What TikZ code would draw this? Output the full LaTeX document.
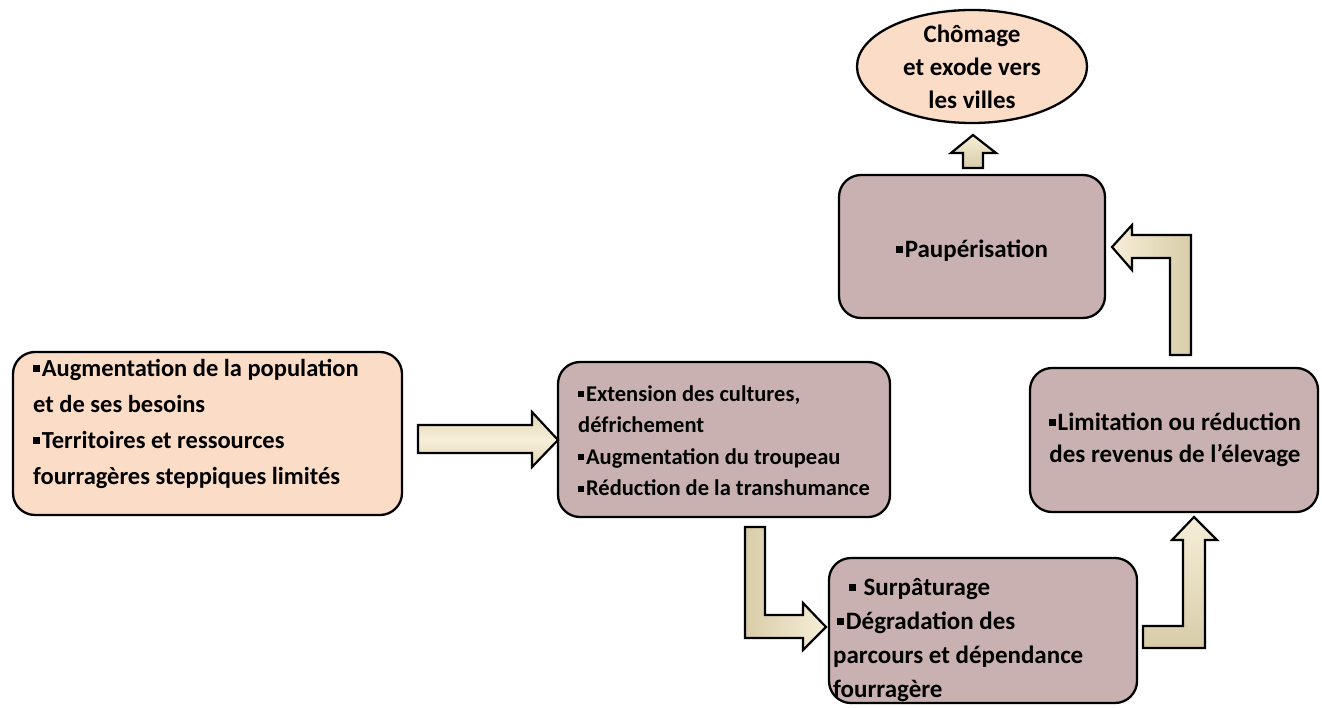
\documentclass[tikz,border=0pt]{standalone}
\usepackage{fontspec}
\setmainfont{Carlito}
\usetikzlibrary{shapes.geometric}
\definecolor{peach}{HTML}{FBDCC6}
\definecolor{mauve}{HTML}{C9B1B1}
\definecolor{arrL}{HTML}{F6EED8}
\definecolor{arrD}{HTML}{D8CCA8}
\newcommand\sqbul{\rule[0.17em]{0.27em}{0.27em}\hspace{0.08em}}
\newcommand\fstrut{\rule{0pt}{22bp}}
\begin{document}
\begin{tikzpicture}[x=1bp,y=-1bp,
  box/.style={draw=black, line width=2.3bp, rounded corners=22bp, inner sep=0pt},
  txt/.style={inner sep=0pt, align=left},
  blockarrow/.style={draw=black, line width=2.2bp, line join=miter}]
\useasboundingbox (0,0) rectangle (1322,707);
\fill[white] (0,0) rectangle (1322,707);

% boxes
\node[box, fill=peach, minimum width=389bp, minimum height=163bp] (A) at (207.5,433.5) {};
\node[box, fill=mauve, minimum width=332bp, minimum height=155bp] (B) at (724,439.5) {};
\node[box, fill=mauve, minimum width=308bp, minimum height=145bp] (C) at (983,630.5) {};
\node[box, fill=mauve, minimum width=288bp, minimum height=144bp] (D) at (1174,440) {};
\node[box, fill=mauve, minimum width=266bp, minimum height=143bp] (E) at (972,246.5) {};
\node[draw=black, line width=2.3bp, ellipse, fill=peach, minimum width=230bp, minimum height=113bp, inner sep=0pt] (F) at (972,66.5) {};

% texts
\node[txt, anchor=north west, font=\bfseries\fontsize{24.5bp}{36bp}\selectfont] (At) at (33,354)
 {\fstrut\sqbul Augmentation de la population\\ et de ses besoins\\ \sqbul Territoires et ressources\\ fourragères steppiques limités};
\node[txt, anchor=north west, font=\bfseries\fontsize{22.5bp}{31.5bp}\selectfont] (Bt) at (578,379)
 {\fstrut\sqbul Extension des cultures,\\ défrichement\\ \sqbul Augmentation du troupeau\\ \sqbul Réduction de la transhumance};
\node[txt, anchor=north west, font=\bfseries\fontsize{25bp}{34bp}\selectfont] (Ct) at (833,573)
 {\fstrut\hspace*{16bp}\sqbul\ Surpâturage\\ \hspace*{4bp}\sqbul Dégradation des\\ parcours et dépendance\\ fourragère};
\node[txt, align=center, anchor=north, font=\bfseries\fontsize{25bp}{32bp}\selectfont] (Dt) at (1175,408)
 {\fstrut\sqbul Limitation ou réduction\\ des revenus de l’élevage};
\node[txt, align=center, anchor=north, font=\bfseries\fontsize{25bp}{32bp}\selectfont] (Et) at (972,235)
 {\fstrut\sqbul Paupérisation};
\node[txt, align=center, anchor=north, font=\bfseries\fontsize{25bp}{33bp}\selectfont] (Ft) at (972,20)
 {\fstrut Chômage\\ et exode vers\\ les villes};

% block arrows
\draw[blockarrow, top color=arrD!70!arrL, bottom color=arrD!70!arrL, middle color=arrL]
  (418,425) -- (532,425) -- (532,412) -- (558,440) -- (532,467) -- (532,453) -- (418,453) -- cycle;
\draw[blockarrow, left color=arrD, right color=arrL]
  (745,527) -- (765,527) -- (765,615) -- (803,615) -- (803,603) -- (826,627) -- (803,650) -- (803,638) -- (745,638) -- cycle;
\draw[blockarrow, top color=arrL, bottom color=arrD]
  (1143,626) -- (1183,626) -- (1183,540) -- (1172,540) -- (1194,517) -- (1217,540) -- (1205,540) -- (1205,648) -- (1143,648) -- cycle;
\draw[blockarrow, left color=arrL, right color=arrD]
  (1170,355) -- (1170,258) -- (1132,258) -- (1132,270) -- (1112,247) -- (1132,225) -- (1132,235) -- (1191,235) -- (1191,355) -- cycle;
\draw[blockarrow, top color=arrL, bottom color=arrD]
  (963,168) -- (963,153) -- (951,153) -- (973,135) -- (996,153) -- (983,153) -- (983,168) -- cycle;
\end{tikzpicture}
\end{document}
